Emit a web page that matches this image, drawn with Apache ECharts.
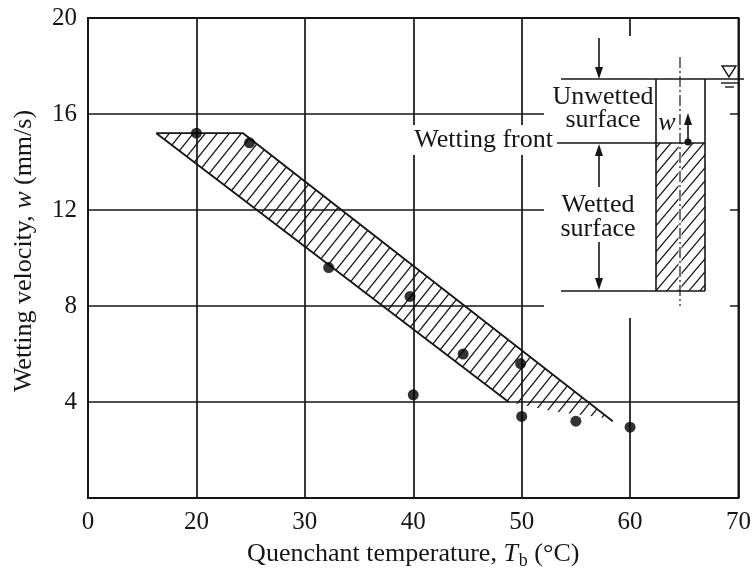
<!DOCTYPE html>
<html>
<head>
<meta charset="utf-8">
<script src="https://cdn.jsdelivr.net/npm/echarts@6/dist/echarts.min.js"></script>
<style>
html,body{margin:0;padding:0;background:#fff;}
#chart{width:754px;height:575px;}
</style>
</head>
<body>
<div id="chart"></div>
<script>
// ---- data ----
const xTickValues = [10, 20, 30, 40, 50, 60, 70];
const xTickLabels = ['0', '20', '30', '40', '50', '60', '70'];
const yTickValues = [0, 4, 8, 12, 16, 20];
const yTickLabels = ['', '4', '8', '12', '16', '20'];

// measured points: [quenchant temperature, wetting velocity]
const pointsT = [20, 24.9, 32.2, 39.7, 40, 44.6, 49.9, 50, 55, 60];
const pointsW = [15.2, 14.8, 9.6, 8.4, 4.3, 6.0, 5.6, 3.4, 3.2, 2.95];

// hatched band (data coordinates)
const bandUpper = [[16.3, 15.2], [24.3, 15.2], [58.4, 3.2]];
const bandLower = [[16.3, 15.2], [48.8, 4.0]];
const bandHatchEdge = [[58.4, 3.2], [57.4, 3.35], [53.0, 3.6], [48.8, 4.0]];

const serif = '"Liberation Serif", "DejaVu Serif", serif';
const ink = '#161616';

function hatchPattern(W, H, lw) {
  const c = document.createElement('canvas');
  c.width = W; c.height = H;
  const g = c.getContext('2d');
  g.strokeStyle = ink; g.lineWidth = lw;
  g.beginPath();
  for (let k = 0; k <= 2; k++) {
    // line x/W + y/H = k, extended beyond the tile
    g.moveTo(k * W - 2 * W, 2 * H);
    g.lineTo(k * W + 2 * W, -2 * H);
  }
  g.stroke();
  return { image: c, repeat: 'repeat' };
}
const bandPattern = hatchPattern(12, 15, 1.3);
const rodPattern = hatchPattern(11, 13, 1.2);

const chart = echarts.init(document.getElementById('chart'));

const L = { stroke: ink, lineWidth: 1.6, fill: null };
function line(x1, y1, x2, y2, extra) {
  return Object.assign({ type: 'line', z: 10, shape: { x1, y1, x2, y2 }, style: Object.assign({}, L) }, extra || {});
}
function head(x, y, dir) { // dir 1 = down, -1 = up ; (x,y) tip
  return { type: 'polygon', z: 10, shape: { points: [[x - 4, y - dir * 12], [x + 4, y - dir * 12], [x, y]] }, style: { fill: ink } };
}
const txt = { font: '26px ' + serif, fill: ink, align: 'center', verticalAlign: 'middle' };

const option = {
  animation: false,
  backgroundColor: '#fff',
  grid: { left: 88, right: 9, top: 18, bottom: 75, show: true, borderColor: ink, borderWidth: 2 },
  xAxis: {
    type: 'value', min: 10, max: 70, interval: 10,
    axisLine: { show: false }, axisTick: { show: false },
    splitLine: { lineStyle: { color: ink, width: 1.7 } },
    axisLabel: {
      margin: 12, fontFamily: serif, fontSize: 25, color: ink,
      formatter: v => { const i = xTickValues.indexOf(v); return i >= 0 ? xTickLabels[i] : ''; }
    },
    name: '{a|Quenchant temperature, }{i|T}{s|b}{a| (°C)}',
    nameLocation: 'middle', nameGap: 41,
    nameTextStyle: {
      rich: {
        a: { fontFamily: serif, fontSize: 26, color: ink },
        i: { fontFamily: serif, fontSize: 26, fontStyle: 'italic', color: ink },
        s: { fontFamily: serif, fontSize: 18, color: ink, padding: [13, 0, 0, 1] }
      }
    }
  },
  yAxis: {
    type: 'value', min: 0, max: 20, interval: 4,
    axisLine: { show: false }, axisTick: { show: false },
    splitLine: { lineStyle: { color: ink, width: 1.7 } },
    axisLabel: {
      margin: 11, fontFamily: serif, fontSize: 25, color: ink,
      formatter: v => { const i = yTickValues.indexOf(v); return i >= 0 ? yTickLabels[i] : ''; }
    },
    name: '{a|Wetting velocity, }{i|w}{a| (mm/s)}',
    nameLocation: 'middle', nameGap: 51,
    nameTextStyle: {
      padding: [0, 0, 0, 14],
      rich: {
        a: { fontFamily: serif, fontSize: 26, color: ink },
        i: { fontFamily: serif, fontSize: 26, fontStyle: 'italic', color: ink }
      }
    }
  },
  series: [
    {
      type: 'custom',
      coordinateSystem: 'cartesian2d',
      data: [[0, 0]],
      z: 2,
      renderItem: function (params, api) {
        const up = bandUpper.map(p => api.coord(p));
        const lo = bandLower.map(p => api.coord(p));
        const fillPts = bandUpper.concat(bandHatchEdge.slice(1)).map(p => api.coord(p));
        return {
          type: 'group',
          children: [
            { type: 'polygon', shape: { points: fillPts }, style: { fill: bandPattern, stroke: null } },
            { type: 'polyline', shape: { points: up }, style: { stroke: ink, lineWidth: 1.8, fill: null } },
            { type: 'polyline', shape: { points: lo }, style: { stroke: ink, lineWidth: 1.8, fill: null } }
          ]
        };
      }
    },
    {
      type: 'scatter',
      symbol: 'circle',
      symbolSize: 11,
      z: 3,
      itemStyle: { color: '#000' },
      data: pointsT.map((t, i) => [t, pointsW[i]])
    }
  ],
  graphic: [
    // blank area behind the inset sketch
    { type: 'rect', z: 5, shape: { x: 544, y: 36, width: 186, height: 282 }, style: { fill: '#fff' } },
    // rod hatch
    { type: 'rect', z: 9, shape: { x: 656, y: 143, width: 49, height: 148 }, style: { fill: rodPattern } },
    line(680, 143, 680, 291, { style: { stroke: '#fff', lineWidth: 3 } }),
    line(680, 57, 680, 306, { style: { stroke: ink, lineWidth: 1.2, lineDash: [11, 3, 2, 3] } }),
    // horizontal lines
    line(561, 79, 744, 79),
    line(557, 143, 705, 143),
    line(561, 291, 705, 291),
    // rod sides
    line(656, 79, 656, 291),
    line(705, 79, 705, 291),
    // arrows on left
    line(599, 38, 599, 70), head(599, 79, 1),
    line(599, 150, 599, 187), head(599, 144, -1),
    line(599, 242, 599, 282), head(599, 290, 1),
    // velocity arrow w
    line(688, 142, 688, 122), head(688, 113, -1),
    { type: 'circle', z: 10, shape: { cx: 688, cy: 142, r: 3.5 }, style: { fill: ink } },
    // water level symbol
    { type: 'polygon', z: 10, shape: { points: [[722, 66], [736, 66], [729, 77]] }, style: { fill: '#fff', stroke: ink, lineWidth: 1.4 } },
    line(721, 83, 738, 83, { style: { stroke: ink, lineWidth: 1.4 } }),
    line(725, 87, 734, 87, { style: { stroke: ink, lineWidth: 1.4 } }),
    // texts
    { type: 'text', z: 10, x: 603, y: 97, style: Object.assign({ text: 'Unwetted' }, txt) },
    { type: 'text', z: 10, x: 603, y: 120, style: Object.assign({ text: 'surface' }, txt) },
    { type: 'text', z: 10, x: 598, y: 205, style: Object.assign({ text: 'Wetted' }, txt) },
    { type: 'text', z: 10, x: 598, y: 229, style: Object.assign({ text: 'surface' }, txt) },
    { type: 'text', z: 10, x: 667, y: 123, style: Object.assign({ text: 'w' }, txt, { font: 'italic 26px ' + serif }) },
    { type: 'text', z: 10, x: 555, y: 140, style: Object.assign({ text: 'Wetting front' }, txt, { align: 'right', backgroundColor: '#fff', padding: [2, 2, 2, 4] }) }
  ]
};
chart.setOption(option);
</script>
</body>
</html>
